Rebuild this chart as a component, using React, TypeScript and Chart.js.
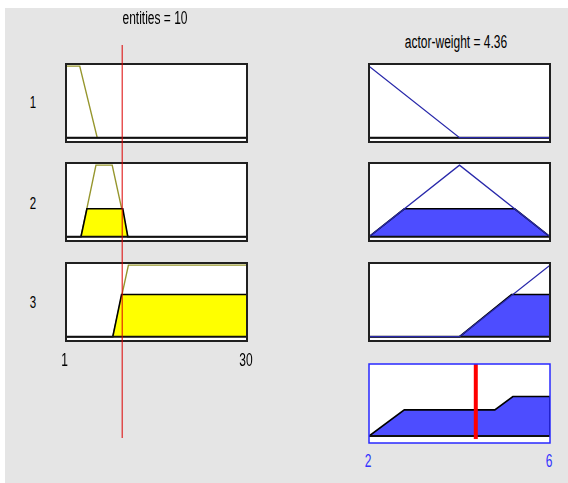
import React, { useEffect, useRef } from "react";
import { Chart, registerables } from "chart.js";

Chart.register(...registerables);

// ---------- data ----------
const entityRange = [1, 30];
const actorRange = [2, 6];
const entitiesInput = 10;
const actorOutput = 4.36;
const ruleLabels = ["1", "2", "3"];
const ruleFiring = [0, 0.39, 0.59];

// input membership functions (entities)
const inMf1X = [1, 3.2, 6.0];
const inMf1Y = [1, 1, 0];
const inMf2X = [3.4, 5.8, 8.4, 10.9];
const inMf2Y = [0, 1, 1, 0];
const inMf3X = [8.5, 11.0, 30];
const inMf3Y = [0, 1, 1];

// clipped (fired) input areas
const inFill1X = [1, 30];
const inFill1Y = [0, 0];
const inFill2X = [1, 3.4, 4.35, 10.1, 10.9, 30];
const inFill2Y = [0, 0, 0.39, 0.39, 0, 0];
const inFill3X = [1, 8.5, 9.9, 30, 30];
const inFill3Y = [0, 0, 0.59, 0.59, 0];

// output membership functions (actor-weight)
const outMf1X = [2, 4, 6];
const outMf1Y = [1, 0, 0];
const outMf2X = [2, 4, 6];
const outMf2Y = [0, 1, 0];
const outMf3X = [2, 4, 6];
const outMf3Y = [0, 0, 1];

// clipped output areas
const outFill1X = [2, 6];
const outFill1Y = [0, 0];
const outFill2X = [2, 2.78, 5.22, 6];
const outFill2Y = [0, 0.39, 0.39, 0];
const outFill3X = [2, 4, 5.15, 6, 6];
const outFill3Y = [0, 0, 0.59, 0.59, 0];

// aggregated output
const aggX = [2, 2.78, 4.78, 5.18, 6, 6];
const aggY = [0, 0.39, 0.39, 0.59, 0.59, 0];

const inputTitle = "entities = " + entitiesInput;
const outputTitle = "actor-weight = " + actorOutput;
const entityTicks = ["1", "30"];
const actorTicks = ["2", "6"];

// ---------- styles ----------
const YELLOW = "rgb(255,255,0)";
const OLIVE = "rgb(150,150,45)";
const BLUE_FILL = "rgb(77,77,255)";
const BLUE_LINE = "rgb(40,40,170)";
const EDGE = "#000000";

const pts = (xs: number[], ys: number[]) => xs.map((x, i) => ({ x, y: ys[i] }));

type PanelProps = {
  left: number;
  top: number;
  width: number;
  height: number;
  xMin: number;
  xMax: number;
  yMin: number;
  yMax: number;
  datasets: any[];
  frameColor?: string;
  frameWidth?: number;
  background?: boolean;
  z?: number;
};

function Panel(props: PanelProps) {
  const ref = useRef<HTMLCanvasElement | null>(null);
  useEffect(() => {
    if (!ref.current) return;
    const frameColor = props.frameColor;
    const frameWidth = props.frameWidth || 2;
    const background = props.background !== false;
    const framePlugin = {
      id: "frame",
      beforeDatasetsDraw(chart: any) {
        if (!background) return;
        const a = chart.chartArea;
        const c = chart.ctx;
        c.save();
        c.fillStyle = "#ffffff";
        c.fillRect(a.left, a.top, a.right - a.left, a.bottom - a.top);
        c.restore();
      },
      afterDatasetsDraw(chart: any) {
        if (!frameColor) return;
        const a = chart.chartArea;
        const c = chart.ctx;
        c.save();
        c.strokeStyle = frameColor;
        c.lineWidth = frameWidth;
        c.strokeRect(a.left, a.top, a.right - a.left, a.bottom - a.top);
        c.restore();
      },
    };
    const chart = new Chart(ref.current, {
      type: "line",
      data: { datasets: props.datasets },
      options: {
        responsive: false,
        animation: false,
        devicePixelRatio: 1,
        events: [],
        layout: { padding: 1 },
        plugins: { legend: { display: false }, tooltip: { enabled: false } },
        elements: { point: { radius: 0 }, line: { tension: 0 } },
        scales: {
          x: { type: "linear", display: false, min: props.xMin, max: props.xMax },
          y: { type: "linear", display: false, min: props.yMin, max: props.yMax },
        },
      },
      plugins: [framePlugin],
    } as any);
    return () => chart.destroy();
  }, []);
  return (
    <canvas
      ref={ref}
      width={props.width}
      height={props.height}
      style={{
        position: "absolute",
        left: props.left,
        top: props.top,
        width: props.width,
        height: props.height,
        zIndex: props.z || 1,
        pointerEvents: "none",
      }}
    />
  );
}

function Label(p: { x: number; y: number; text: string; size: number; color?: string; stretch?: number }) {
  return (
    <div
      style={{
        position: "absolute",
        left: p.x,
        top: p.y,
        transform: `translate(-50%, -50%) scaleY(${p.stretch || 1.5})`,
        fontFamily: "'Liberation Sans', Arial, sans-serif",
        fontSize: p.size,
        lineHeight: 1,
        color: p.color || "#000",
        whiteSpace: "nowrap",
        zIndex: 5,
      }}
    >
      {p.text}
    </div>
  );
}

const inMfX = [inMf1X, inMf2X, inMf3X];
const inMfY = [inMf1Y, inMf2Y, inMf3Y];
const inFillX = [inFill1X, inFill2X, inFill3X];
const inFillY = [inFill1Y, inFill2Y, inFill3Y];
const outMfX = [outMf1X, outMf2X, outMf3X];
const outMfY = [outMf1Y, outMf2Y, outMf3Y];
const outFillX = [outFill1X, outFill2X, outFill3X];
const outFillY = [outFill1Y, outFill2Y, outFill3Y];

const panelTops = [63, 162, 262];
const IN_LEFT = 65;
const OUT_LEFT = 368;
const PW = 183;
const PH = 80;
const IN_YMIN = -0.06;
const IN_YMAX = 1.03;

export default function App() {
  return (
    <div style={{ position: "absolute", left: 0, top: 0, width: 568, height: 483, background: "#ffffff", overflow: "hidden" }}>
      <div style={{ position: "absolute", left: 5, top: 8, width: 563, height: 475, background: "#e5e5e5" }} />

      <Label x={155} y={18} text={inputTitle} size={12} />
      <Label x={456} y={42} text={outputTitle} size={12} />

      {ruleLabels.map((r, i) => (
        <Label key={"r" + i} x={33} y={[103, 204, 303][i]} text={r} size={11.5} />
      ))}

      {ruleLabels.map((r, i) => (
        <Panel
          key={"in" + i}
          left={IN_LEFT}
          top={panelTops[i]}
          width={PW}
          height={PH}
          xMin={entityRange[0]}
          xMax={entityRange[1]}
          yMin={IN_YMIN}
          yMax={IN_YMAX}
          frameColor="#202020"
          frameWidth={2}
          datasets={[
            {
              data: pts([entityRange[0], entityRange[1]], [0, 0]),
              borderColor: "#101010",
              borderWidth: 2,
              fill: false,
              order: 0,
            },
            {
              data: pts(inFillX[i], inFillY[i]),
              borderColor: EDGE,
              borderWidth: 1.6,
              backgroundColor: YELLOW,
              fill: "origin",
              order: 1,
            },
            {
              data: pts(inMfX[i], inMfY[i]),
              borderColor: OLIVE,
              borderWidth: 1.4,
              fill: false,
              order: 2,
            },
          ]}
        />
      ))}

      {ruleLabels.map((r, i) => (
        <Panel
          key={"out" + i}
          left={OUT_LEFT}
          top={panelTops[i]}
          width={PW}
          height={PH}
          xMin={actorRange[0]}
          xMax={actorRange[1]}
          yMin={IN_YMIN}
          yMax={IN_YMAX}
          frameColor="#202020"
          frameWidth={2}
          datasets={[
            {
              data: pts(outMfX[i], outMfY[i]),
              borderColor: BLUE_LINE,
              borderWidth: 1.3,
              fill: false,
              order: 0,
            },
            {
              data: pts([actorRange[0], actorRange[1]], [0, 0]),
              borderColor: "#101010",
              borderWidth: 2,
              fill: false,
              order: 1,
            },
            {
              data: pts(outFillX[i], outFillY[i]),
              borderColor: EDGE,
              borderWidth: 1.6,
              backgroundColor: BLUE_FILL,
              fill: "origin",
              order: 2,
            },
          ]}
        />
      ))}

      <Panel
        left={OUT_LEFT}
        top={363}
        width={PW}
        height={81}
        xMin={actorRange[0]}
        xMax={actorRange[1]}
        yMin={-0.104}
        yMax={1.075}
        frameColor="rgb(40,40,255)"
        frameWidth={1.5}
        datasets={[
          {
            data: pts([actorOutput, actorOutput], [-0.045, 1.075]),
            borderColor: "rgb(255,0,0)",
            borderWidth: 4,
            fill: false,
            order: 0,
          },
          {
            data: pts([actorRange[0], actorRange[1]], [0, 0]),
            borderColor: "#101010",
            borderWidth: 2,
            fill: false,
            order: 1,
          },
          {
            data: pts(aggX, aggY),
            borderColor: EDGE,
            borderWidth: 1.6,
            backgroundColor: BLUE_FILL,
            fill: "origin",
            order: 2,
          },
        ]}
      />

      {/* vertical input marker across the input panels */}
      <Panel
        left={IN_LEFT}
        top={44}
        width={PW}
        height={395}
        xMin={entityRange[0]}
        xMax={entityRange[1]}
        yMin={0}
        yMax={1}
        background={false}
        z={3}
        datasets={[
          {
            data: pts([entitiesInput, entitiesInput], [0, 1]),
            borderColor: "rgb(220,0,0)",
            borderWidth: 1,
            fill: false,
          },
        ]}
      />

      <Label x={64.5} y={360} text={entityTicks[0]} size={12} stretch={1.6} />
      <Label x={246} y={360} text={entityTicks[1]} size={12} stretch={1.6} />
      <Label x={368} y={461} text={actorTicks[0]} size={12} stretch={1.6} color="rgb(50,50,255)" />
      <Label x={549} y={461} text={actorTicks[1]} size={12} stretch={1.6} color="rgb(50,50,255)" />
    </div>
  );
}
